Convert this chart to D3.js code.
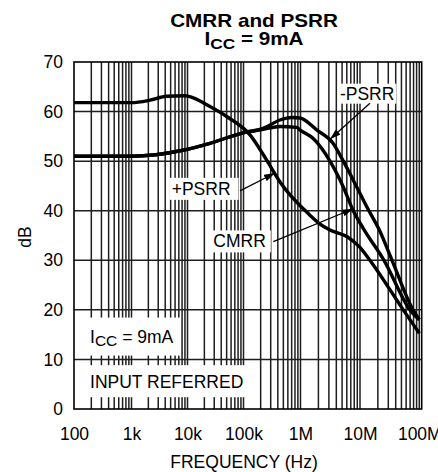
<!DOCTYPE html>
<html>
<head>
<meta charset="utf-8">
<title>CMRR and PSRR</title>
<script src="https://cdn.jsdelivr.net/npm/d3@7"></script>
<style>
  body { margin: 0; background: #fff; }
  svg { display: block; font-family: "Liberation Sans", Arial, sans-serif; }
  .grid line { stroke: #1e1e1e; stroke-width: 1.5; }
  .curve { fill: none; stroke: #000; stroke-width: 3.4; stroke-linejoin: round; }
  .tick text { font-size: 17.5px; fill: #000; }
  .note { font-size: 17.5px; fill: #000; }
  .arrow { stroke: #000; stroke-width: 1.3; }
</style>
</head>
<body>
<script>

// decade ticks on the frequency axis
var decades = [1e2, 1e3, 1e4, 1e5, 1e6, 1e7, 1e8];
var decadeLabels = ["100", "1k", "10k", "100k", "1M", "10M", "100M"];
var dbTicks = [0, 10, 20, 30, 40, 50, 60, 70];

// [frequency Hz, dB]
var plusPsrr = [[100, 61.8], [1000, 61.8], [2140, 62.3], [4260, 63.1], [9000, 63.2], [11000, 63.0],
  [25200, 61.0], [50000, 59.0], [130000, 55.3], [255000, 50.2], [437000, 45.8],
  [1.44e6, 39.1], [2.13e6, 37.3], [3.13e6, 36.1], [6e6, 34.8], [1e7, 32.6], [1.47e7, 30.0],
  [4.16e7, 22.0], [5.37e7, 20.0], [1e8, 15.3]];

var cmrr = [[100, 51.0], [1000, 51.0], [8300, 52.2], [25200, 53.6], [98000, 55.7], [220000, 56.4],
  [437000, 57.0], [857000, 56.8], [1e6, 56.2], [1.62e6, 54.6], [3.13e6, 50.0], [5.24e6, 44.8],
  [7.71e6, 40.0], [1.14e7, 36.4], [2.54e7, 30.0], [6.96e7, 20.0], [1e8, 18.0]];

var minusPsrr = [[100, 51.0], [1000, 51.0], [8300, 52.2], [25200, 53.6], [98000, 55.7], [220000, 56.6],
  [437000, 58.3], [702000, 58.8], [980000, 58.7], [1.87e6, 56.3], [3.52e6, 53.6], [5.24e6, 50.0],
  [8.81e6, 44.8], [1.3e7, 40.8], [2.1e7, 36.2], [3.47e7, 30.0], [7.83e7, 20.0], [1e8, 18.0]];

var w = 438, h = 472;
var plotLeft = 74, plotRight = 421.7, plotTop = 62, plotBottom = 409;

// the scanned grid has slightly uneven decades, so the log scale is piecewise
var x = d3.scaleLog()
  .domain(decades)
  .range([74, 131.5, 187.5, 243.5, 300.5, 360, 419.3]);

var y = d3.scaleLinear()
  .domain([0, 70])
  .range([plotBottom, plotTop]);

var svg = d3.select("body").append("svg")
  .attr("width", w)
  .attr("height", h);

svg.append("defs").append("marker")
  .attr("id", "head")
  .attr("viewBox", "0 0 11 7")
  .attr("refX", 11).attr("refY", 3.5)
  .attr("markerWidth", 11).attr("markerHeight", 7)
  .attr("markerUnits", "userSpaceOnUse")
  .attr("orient", "auto")
  .append("path").attr("d", "M0,0L11,3.5L0,7Z").attr("fill", "#000");

// grid
var minor = [];
decades.slice(0, -1).forEach(function(d) {
  for (var k = 2; k <= 9; k++) minor.push(d * k);
});
var vLines = minor.concat(decades.slice(1));

var grid = svg.append("g").attr("class", "grid");
grid.selectAll("line.v")
  .data(vLines)
  .enter().append("line")
  .attr("class", "v")
  .attr("x1", function(d) { return x(d); })
  .attr("x2", function(d) { return x(d); })
  .attr("y1", plotTop)
  .attr("y2", plotBottom);

grid.selectAll("line.h")
  .data(dbTicks.slice(1, -1))
  .enter().append("line")
  .attr("class", "h")
  .attr("x1", plotLeft)
  .attr("x2", plotRight)
  .attr("y1", function(d) { return y(d); })
  .attr("y2", function(d) { return y(d); });

// axes
svg.append("g")
  .attr("transform", "translate(0," + plotBottom + ")")
  .call(d3.axisBottom(x)
    .tickValues(decades)
    .tickFormat(function(d) { return decadeLabels[decades.indexOf(d)]; })
    .tickSize(0)
    .tickPadding(19))
  .call(function(g) { g.select(".domain").remove(); });

svg.append("g")
  .attr("transform", "translate(" + plotLeft + ",0)")
  .call(d3.axisLeft(y)
    .tickValues(dbTicks)
    .tickSize(0)
    .tickPadding(11))
  .call(function(g) { g.select(".domain").remove(); });

svg.selectAll(".tick text").style("font-family", "Liberation Sans, Arial, sans-serif");

svg.append("text")
  .attr("class", "note")
  .attr("x", 244)
  .attr("y", 468)
  .attr("text-anchor", "middle")
  .text("FREQUENCY (Hz)");

svg.append("text")
  .attr("class", "note")
  .attr("transform", "translate(31,237) rotate(-90)")
  .attr("text-anchor", "middle")
  .text("dB");

// title (the original lettering is a little wide)
var title = svg.append("g")
  .attr("transform", "translate(254,0) scale(1.15,1)")
  .attr("font-weight", "bold")
  .attr("text-anchor", "middle");
title.append("text")
  .attr("y", 26.7)
  .attr("font-size", 18)
  .text("CMRR and PSRR");
var t2 = title.append("text").attr("y", 45).attr("font-size", 18);
t2.append("tspan").text("I");
t2.append("tspan").attr("font-size", 15).attr("dy", 4).text("CC");
t2.append("tspan").attr("dy", -4).text(" = 9mA");

// curves
var line = d3.line()
  .x(function(d) { return x(d[0]); })
  .y(function(d) { return y(d[1]); })
  .curve(d3.curveMonotoneX);

svg.selectAll("path.curve")
  .data([cmrr, minusPsrr, plusPsrr])
  .enter().append("path")
  .attr("class", "curve")
  .attr("d", line);

// labels with white boxes, arrows point at the curves
function boxed(g, pad) {
  var b = g.select("text").node().getBBox();
  var x0 = pad[0] === null ? plotLeft : b.x - pad[0];
  g.insert("rect", "text")
    .attr("x", x0)
    .attr("y", b.y - pad[1])
    .attr("width", b.x + b.width + pad[2] - x0)
    .attr("height", b.height + pad[1] + pad[3])
    .attr("fill", "#fff");
}

var notes = [
  { text: "-PSRR", at: [4.6e6, 62.4], from: [1.47e7, 61.7], to: [3.13e6, 54.4], pad: [2, 0, 2, 0] },
  { text: "+PSRR", at: [5220, 43.2], from: [86600, 44.0], to: [357000, 47.6], pad: [2, 1, 8, 1] },
  { text: "CMRR", at: [28900, 32.6], from: [333000, 33.75], to: [7.7e6, 40.4], pad: [2, 1, 5, 1] }
];

var labels = svg.append("g");
notes.forEach(function(n) {
  var g = labels.append("g");
  g.append("text")
    .attr("class", "note")
    .attr("x", x(n.at[0]))
    .attr("y", y(n.at[1]))
    .text(n.text);
  boxed(g, n.pad);
  labels.append("line")
    .attr("class", "arrow")
    .attr("x1", x(n.from[0])).attr("y1", y(n.from[1]))
    .attr("x2", x(n.to[0])).attr("y2", y(n.to[1]))
    .attr("marker-end", "url(#head)");
});

var icc = labels.append("g");
var it = icc.append("text")
  .attr("class", "note")
  .attr("x", x(190))
  .attr("y", y(13.4));
it.append("tspan").text("I");
it.append("tspan").attr("font-size", 15.5).attr("dy", 3).text("CC");
it.append("tspan").attr("dy", -3).text(" = 9mA");
boxed(icc, [null, 9, 7, 7]);

var ref = labels.append("g");
ref.append("text")
  .attr("class", "note")
  .attr("x", x(190))
  .attr("y", y(4.2))
  .text("INPUT REFERRED");
boxed(ref, [null, 7, 7, 5]);

// frame
svg.append("rect")
  .attr("x", plotLeft)
  .attr("y", plotTop)
  .attr("width", plotRight - plotLeft)
  .attr("height", plotBottom - plotTop)
  .attr("fill", "none")
  .attr("stroke", "#000")
  .attr("stroke-width", 1.6);

</script>
</body>
</html>
